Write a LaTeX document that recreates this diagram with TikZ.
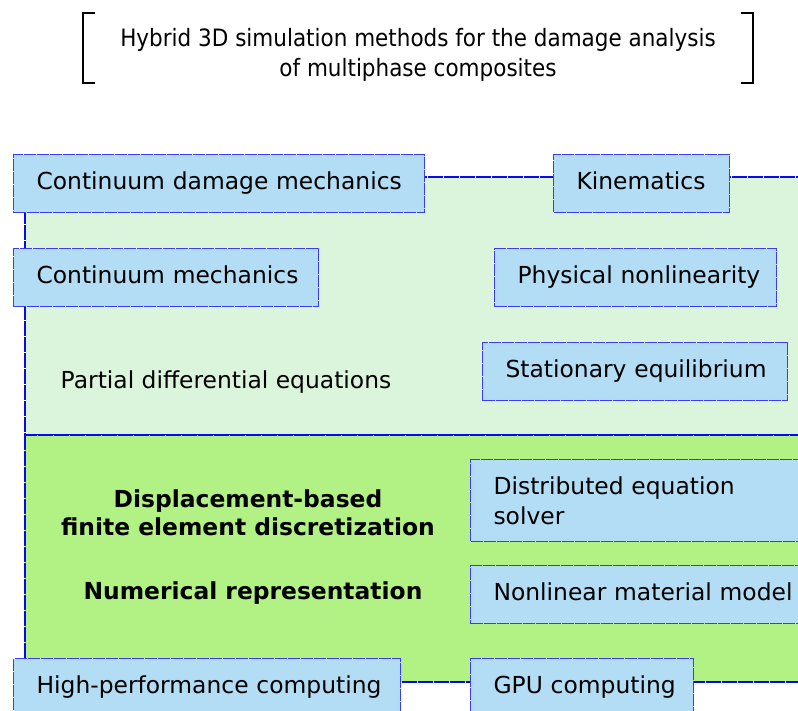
\documentclass[tikz,border=0pt]{standalone}
\usepackage{fontspec}
\setmainfont{DejaVu Sans}
\newfontfamily\titlefont{DejaVu Sans}[FakeStretch=0.9]
\definecolor{boxfill}{RGB}{179,221,245}
\definecolor{lightgreen}{RGB}{219,244,220}
\definecolor{darkgreen}{RGB}{178,241,131}
\definecolor{boxline}{RGB}{60,60,245}
\definecolor{regline}{RGB}{10,10,230}
\tikzset{
  region/.style={draw=regline, line width=1.1pt, dash pattern=on 15pt off 1pt},
  box/.style={draw=boxline, fill=boxfill, line width=1.1pt, dash pattern=on 12pt off 1pt,
    rectangle, inner xsep=23pt, inner ysep=0pt, minimum height=58pt, align=left,
    anchor=north west, font=\fontsize{23.4}{30}\selectfont},
  onebox/.style={box, text height=17.5pt, text depth=5pt},
  lbl/.style={font=\fontsize{23.4}{28}\selectfont, align=center, inner sep=0pt},
  blbl/.style={font=\fontsize{23.4}{28}\selectfont\bfseries, align=center, inner sep=0pt}
}
\begin{document}
\begin{tikzpicture}[x=1pt,y=-1pt]
\useasboundingbox (0,0) rectangle (798,710);
\begin{scope}
\clip (0,0) rectangle (798,710);
% regions
\path[region, fill=lightgreen] (25,177) rectangle (840,435);
\path[region, fill=darkgreen] (25,435) rectangle (840,682);
% title
\node[font=\titlefont\fontsize{23.9}{30}\selectfont, align=center, inner sep=0pt] (title) at (418,55)
  {Hybrid 3D simulation methods for the damage analysis\\of multiphase composites};
\draw[line width=2pt] (95,13) -- (83,13) -- (83,83) -- (95,83);
\draw[line width=2pt] (741,13) -- (753,13) -- (753,83) -- (741,83);
% boxes
\node[onebox, text width=365pt] (cdm) at (13,154) {\mbox{Continuum damage mechanics}};
\node[onebox, text width=130pt] (kin) at (553,154) {\mbox{Kinematics}};
\node[onebox, text width=259pt] (cm) at (13,248) {\mbox{Continuum mechanics}};
\node[onebox, text width=236pt] (pn) at (494,248) {\mbox{Physical nonlinearity}};
\node[onebox, text width=259pt] (se) at (482,342) {\mbox{Stationary equilibrium}};
\node[box, text width=314pt, minimum height=82pt] (des) at (470,459) {Distributed equation\\solver};
\node[onebox, text width=314pt] (nmm) at (470,565) {\mbox{Nonlinear material model}};
\node[onebox, text width=341pt] (hpc) at (13,658) {\mbox{High-performance computing}};
\node[onebox, text width=177pt] (gpu) at (470,658) {\mbox{GPU computing}};
% labels
\node[lbl] (pde) at (226,382) {Partial differential equations};
\node[blbl] (fem) at (248,513) {Displacement-based\\finite element discretization};
\node[blbl] (num) at (253,593) {Numerical representation};
\end{scope}
\end{tikzpicture}
\end{document}
